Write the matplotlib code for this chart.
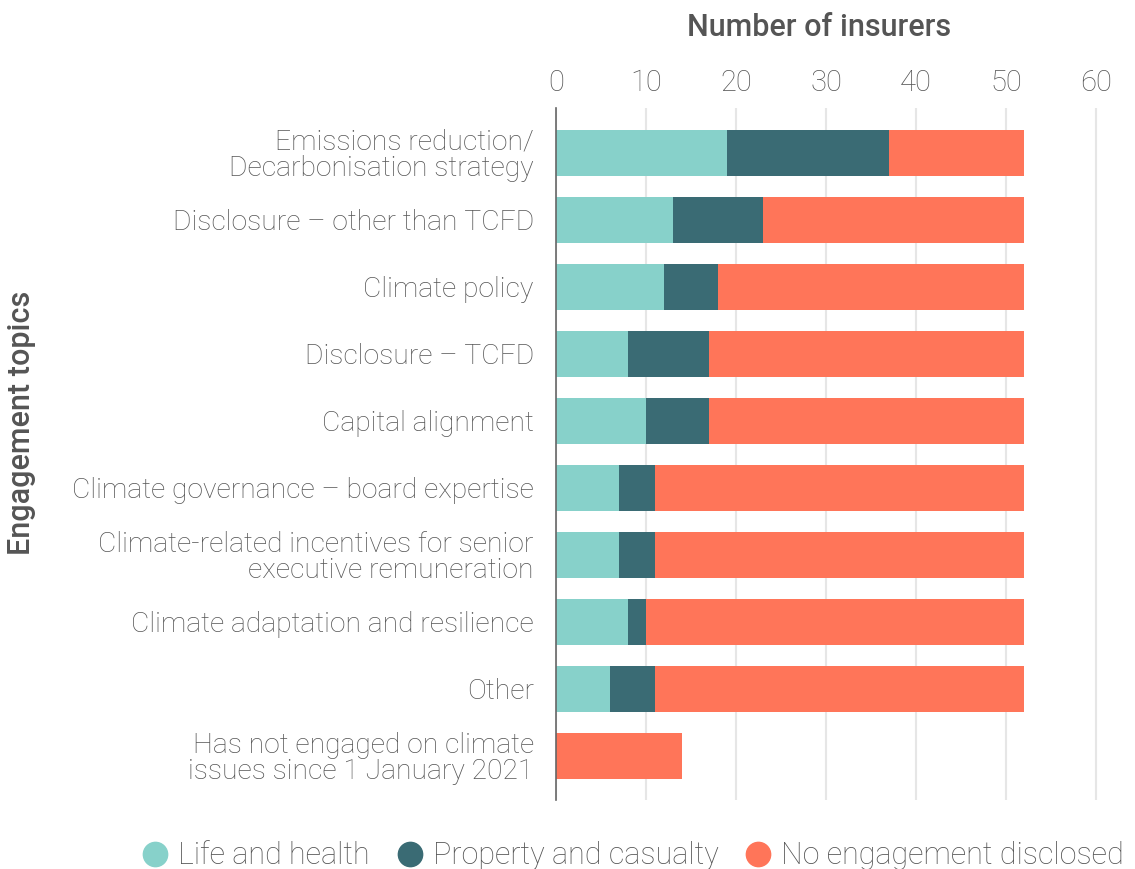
import numpy as np
import matplotlib.pyplot as plt
from matplotlib.lines import Line2D

# Engagement topics and counts per insurer type
topics = [
    'Emissions reduction/\nDecarbonisation strategy',
    'Disclosure – other than TCFD',
    'Climate policy',
    'Disclosure – TCFD',
    'Capital alignment',
    'Climate governance – board expertise',
    'Climate-related incentives for senior\nexecutive remuneration',
    'Climate adaptation and resilience',
    'Other',
    'Has not engaged on climate\nissues since 1 January 2021',
]
life_health = [19, 13, 12, 8, 10, 7, 7, 8, 6, 0]
property_casualty = [18, 10, 6, 9, 7, 4, 4, 2, 5, 0]
no_engagement = [15, 29, 34, 35, 35, 41, 41, 42, 41, 14]
x_ticks = [0, 10, 20, 30, 40, 50, 60]

series_names = ['Life and health', 'Property and casualty', 'No engagement disclosed']
colors = ['#87d1ca', '#3a6b74', '#ff7559']

TEXT = '#555555'
FONT = 'Roboto'

plt.rcParams['font.family'] = [FONT, 'DejaVu Sans']

fig = plt.figure(figsize=(11.35, 8.69), dpi=100)
ax = fig.add_axes([556 / 1135, 1 - 800 / 869, (1100.5 - 556) / 1135, (800 - 108) / 869])

y = np.arange(len(topics))
lh = np.array(life_health)
pc = np.array(property_casualty)
ne = np.array(no_engagement)
h = 0.69
ax.barh(y, lh, height=h, color=colors[0], zorder=3)
ax.barh(y, pc, left=lh, height=h, color=colors[1], zorder=3)
ax.barh(y, ne, left=lh + pc, height=h, color=colors[2], zorder=3)

ax.set_ylim(len(topics) - 1 + 0.66, -0.67)
ax.set_xlim(0, 60.5)
ax.set_xticks(x_ticks)
ax.xaxis.tick_top()
ax.tick_params(axis='x', length=0, labelsize=21, labelcolor=TEXT, pad=8)
ax.tick_params(axis='y', length=0, labelsize=20.3, labelcolor=TEXT, pad=16)
for lab in ax.get_xticklabels() + ax.get_yticklabels():
    lab.set_fontweight('light')
ax.set_yticks(y)
ax.set_yticklabels(topics, linespacing=0.95)
ax.grid(axis='x', color='#e6e6e6', linewidth=1.5, zorder=0)
for s in ['top', 'right', 'bottom']:
    ax.spines[s].set_visible(False)
ax.spines['left'].set_color('#666666')
ax.spines['left'].set_linewidth(1.2)
ax.spines['left'].set_zorder(4)

fig.text(819 / 1135, 1 - 28 / 869, 'Number of insurers', ha='center', va='center',
         fontsize=22, color=TEXT, fontweight='medium')
fig.text(22 / 1135, 1 - 423 / 869, 'Engagement topics', ha='center', va='center',
         rotation=90, fontsize=22, color=TEXT, fontweight='medium')

handles = [Line2D([0], [0], marker='o', linestyle='', markersize=17.5,
                  markerfacecolor=c, markeredgecolor=c) for c in colors]
leg = fig.legend(handles, series_names, loc='center', bbox_to_anchor=(632 / 1135, 1 - 856 / 869),
                 ncol=3, frameon=False, fontsize=22, handletextpad=0.25, columnspacing=0.8,
                 handlelength=1.0, borderaxespad=0)
for t in leg.get_texts():
    t.set_color(TEXT)
    t.set_fontweight('light')

fig.savefig('out.png', dpi=100)
